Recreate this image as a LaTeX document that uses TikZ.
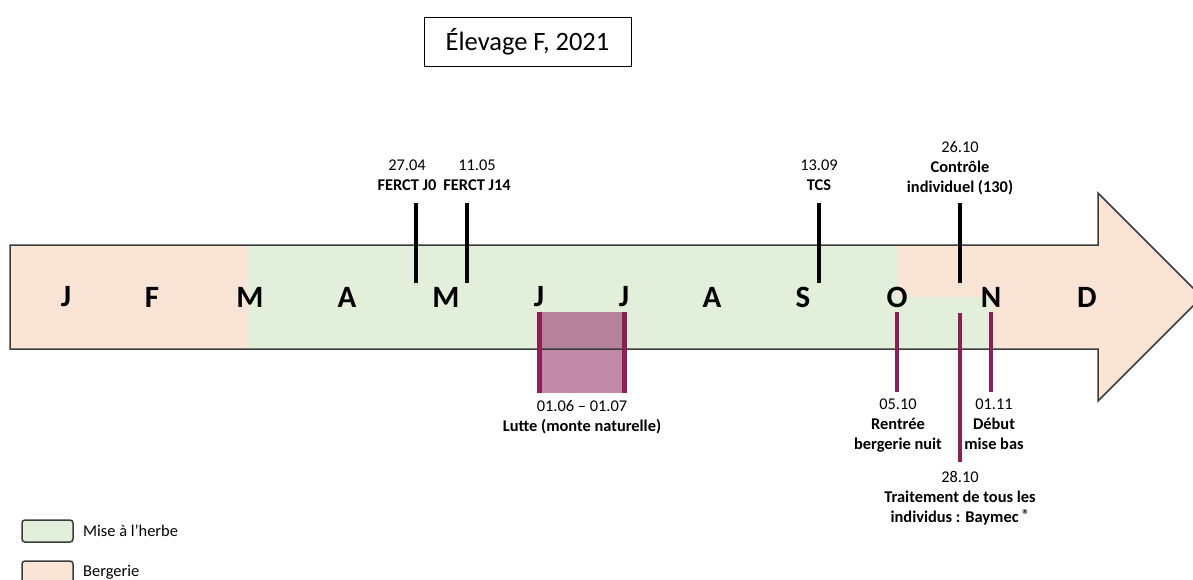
\documentclass[tikz,border=0pt]{standalone}
\usepackage{fontspec}
\setmainfont{Carlito}
\definecolor{beige}{RGB}{250,228,213}
\definecolor{herbe}{RGB}{226,239,218}
\definecolor{mauveline}{RGB}{140,32,86}
\definecolor{mauvefill}{RGB}{150,60,110}
\definecolor{outline}{RGB}{60,60,60}
\tikzset{
  month/.style={font=\fontsize{31}{31}\selectfont\bfseries, inner sep=0pt, anchor=center},
  lbl/.style={font=\fontsize{16.4}{20}\selectfont, align=center, inner sep=0pt, anchor=north},
  blacktick/.style={line width=4pt, black},
  mauvetick/.style={line width=4pt, mauveline},
  legbox/.style={draw=outline, line width=1.5pt, rounded corners=3pt},
  legtext/.style={font=\fontsize{16.4}{20}\selectfont, anchor=west, inner sep=0pt},
}
\begin{document}
\begin{tikzpicture}[x=1pt,y=-1pt]
\clip (0,0) rectangle (1193,579);
% arrow fill
\fill[beige] (10,245) -- (1098,245) -- (1098,193) -- (1202,297) -- (1098,401) -- (1098,349) -- (10,349) -- cycle;
\fill[herbe] (248,245) rectangle (897,349);
\fill[herbe] (897,297) rectangle (991,349);
% lutte box
\fill[mauvefill, opacity=0.6] (539,312) rectangle (624,393);
% arrow outline
\draw[outline, line width=1.5pt] (10,245) -- (1098,245) -- (1098,193) -- (1202,297) -- (1098,401) -- (1098,349) -- (10,349) -- cycle;
% months
\node[month] (mJ1) at (66,297) {J};
\node[month] (mF) at (152,297) {F};
\node[month] (mM1) at (250,297) {M};
\node[month] (mA1) at (347,297) {A};
\node[month] (mM2) at (446,297) {M};
\node[month] (mJ2) at (539,297) {J};
\node[month] (mJ3) at (624,297) {J};
\node[month] (mA2) at (712,297) {A};
\node[month] (mS) at (803,297) {S};
\node[month] (mO) at (897,297) {O};
\node[month] (mN) at (991,297) {N};
\node[month] (mD) at (1087,297) {D};
% title
\node[draw=black, line width=1pt, minimum width=207pt, minimum height=49pt, inner sep=0pt, font=\fontsize{26.5}{30}\selectfont] (title) at (527.5,41.5) {Élevage F, 2021};
% top labels and ticks
\node[lbl] (l1) at (407,160) {27.04\\\textbf{FERCT J0}};
\node[lbl] (l2) at (477,160) {11.05\\\textbf{FERCT J14}};
\node[lbl] (l3) at (819,160) {13.09\\\textbf{TCS}};
\node[lbl] (l4) at (960,141) {26.10\\\textbf{Contrôle}\\\textbf{individuel (130)}};
\coordinate (t1a) at (416,203); \coordinate (t1b) at (416,283);
\coordinate (t2a) at (467,203); \coordinate (t2b) at (467,283);
\coordinate (t3a) at (819,203); \coordinate (t3b) at (819,283);
\coordinate (t4a) at (960,203); \coordinate (t4b) at (960,283);
\draw[blacktick] (t1a) -- (t1b);
\draw[blacktick] (t2a) -- (t2b);
\draw[blacktick] (t3a) -- (t3b);
\draw[blacktick] (t4a) -- (t4b);
% bottom ticks
\coordinate (b1a) at (539,312); \coordinate (b1b) at (539,393);
\coordinate (b2a) at (624,312); \coordinate (b2b) at (624,393);
\coordinate (b3a) at (897,312); \coordinate (b3b) at (897,392);
\coordinate (b4a) at (960,313); \coordinate (b4b) at (960,462);
\coordinate (b5a) at (991,312); \coordinate (b5b) at (991,392);
\draw[mauvetick, line width=5pt] (b1a) -- (b1b);
\draw[mauvetick, line width=5pt] (b2a) -- (b2b);
\draw[mauvetick] (b3a) -- (b3b);
\draw[mauvetick] (b4a) -- (b4b);
\draw[mauvetick] (b5a) -- (b5b);
% bottom labels
\node[lbl] (l5) at (582,400) {01.06 -- 01.07\\\textbf{Lutte (monte naturelle)}};
\node[lbl] (l6) at (898,399) {05.10\\\textbf{Rentrée}\\\textbf{bergerie nuit}};
\node[lbl] (l7) at (994,399) {01.11\\\textbf{Début}\\\textbf{mise bas}};
\node[lbl] (l8) at (960,471) {28.10\\\textbf{Traitement de tous les}\\\textbf{individus : Baymec {\raisebox{3pt}{\fontsize{14}{14}\selectfont\bfseries ®}}}};
% legend
\draw[legbox, fill=herbe] (22,520) rectangle (73,542);
\node[legtext] (leg1) at (83,531) {Mise à l’herbe};
\draw[legbox, fill=beige] (22,561) rectangle (73,583);
\node[legtext] (leg2) at (83,572) {Bergerie};
\end{tikzpicture}
\end{document}
